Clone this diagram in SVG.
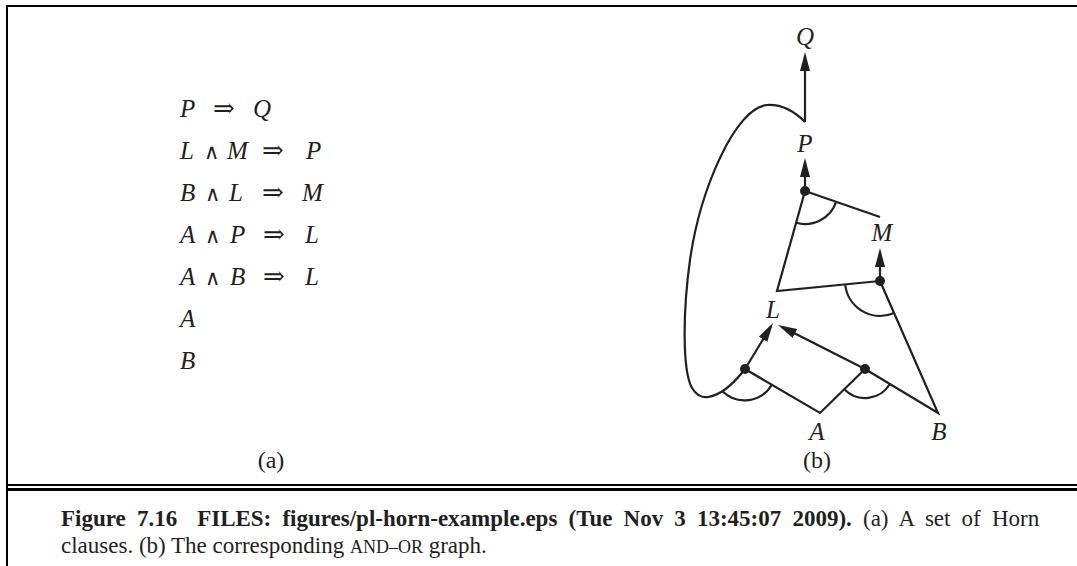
<svg xmlns="http://www.w3.org/2000/svg" width="1077" height="566" viewBox="0 0 1077 566">
<style>
.ln{stroke:#231f20;stroke-width:2.2;fill:none;stroke-linejoin:miter}
.lbl{font-family:"Liberation Serif",serif;font-style:italic;font-size:25px;fill:#231f20;text-anchor:middle}
.sub{font-family:"Liberation Serif",serif;font-size:24px;fill:#231f20;text-anchor:middle}
.mi{font-family:"Liberation Serif",serif;font-style:italic;font-size:25px;fill:#231f20}
.op{font-family:"DejaVu Serif",serif;font-size:26px;fill:#231f20}
.an{font-family:"DejaVu Sans",sans-serif;font-size:21px;fill:#231f20}
.cap{font-family:"Liberation Serif",serif;font-size:23px;fill:#231f20}
.dot{fill:#231f20}
</style>
<defs>
<marker id="ah" viewBox="0 0 19 10" markerUnits="userSpaceOnUse" markerWidth="19" markerHeight="10" refX="15" refY="5" orient="auto">
<path d="M0,0 L19,5 L0,10 z" fill="#231f20"/>
</marker>
</defs>
<g id="frame" fill="#000">
<rect x="6" y="5" width="1071" height="2"/>
<rect x="6" y="5" width="2" height="561"/>
<rect x="6" y="484" width="1071" height="2"/>
<rect x="6" y="488" width="1071" height="3"/>
</g>
<g id="clauses">
<text y="117"><tspan class="mi" x="180">P</tspan><tspan class="op" x="213">⇒</tspan><tspan class="mi" x="253">Q</tspan></text>
<text y="159"><tspan class="mi" x="180">L</tspan><tspan class="an" x="204">∧</tspan><tspan class="mi" x="227">M</tspan><tspan class="op" x="262">⇒</tspan><tspan class="mi" x="306">P</tspan></text>
<text y="201"><tspan class="mi" x="180">B</tspan><tspan class="an" x="205">∧</tspan><tspan class="mi" x="229">L</tspan><tspan class="op" x="262">⇒</tspan><tspan class="mi" x="302">M</tspan></text>
<text y="243"><tspan class="mi" x="180">A</tspan><tspan class="an" x="205">∧</tspan><tspan class="mi" x="230">P</tspan><tspan class="op" x="263">⇒</tspan><tspan class="mi" x="305">L</tspan></text>
<text y="285"><tspan class="mi" x="180">A</tspan><tspan class="an" x="205">∧</tspan><tspan class="mi" x="230">B</tspan><tspan class="op" x="263">⇒</tspan><tspan class="mi" x="305">L</tspan></text>
<text y="327"><tspan class="mi" x="180">A</tspan></text>
<text y="369"><tspan class="mi" x="180">B</tspan></text>
<text class="sub" x="271" y="468">(a)</text>
</g>
<g id="connectors">
<path class="ln" d="M805,122 C795,112 782,104 767,105 C735,108 700,190 690,260 C683,310 682,370 692,388 C697,396 702,398 708,397 C722,395 735,382 745,369"/>
<line class="ln" x1="805" y1="122" x2="805" y2="56" marker-end="url(#ah)"/>
<line class="ln" x1="805" y1="191" x2="805" y2="162" marker-end="url(#ah)"/>
<line class="ln" x1="880" y1="281" x2="880" y2="252" marker-end="url(#ah)"/>
<line class="ln" x1="745" y1="369" x2="770.9" y2="326.4" marker-end="url(#ah)"/>
<line class="ln" x1="865" y1="369" x2="781.6" y2="326.8" marker-end="url(#ah)"/>
<polyline class="ln" points="805,191 777,291 880,281"/>
<line class="ln" x1="805" y1="191" x2="880" y2="217"/>
<polyline class="ln" points="880,281 938,413 865,369"/>
<polyline class="ln" points="745,369 820,413 865,369"/>
<path class="ln" d="M796.1,222.8 A33,33 0 0 0 836.2,201.8"/>
<path class="ln" d="M845.2,284.4 A35,35 0 0 0 894.1,313"/>
<path class="ln" d="M722.5,391.3 A31.5,31.5 0 0 0 771.8,384.7"/>
<path class="ln" d="M844.3,389.3 A29,29 0 0 0 889.9,384"/>
</g>
<g id="node-Q"><text class="lbl" x="805" y="45">Q</text></g>
<g id="node-P"><text class="lbl" x="805" y="152">P</text></g>
<g id="node-M"><text class="lbl" x="882" y="241">M</text></g>
<g id="node-L"><text class="lbl" x="773" y="318">L</text></g>
<g id="node-A"><text class="lbl" x="817" y="440">A</text></g>
<g id="node-B"><text class="lbl" x="939" y="440">B</text></g>
<g id="and-P"><circle class="dot" cx="805" cy="191" r="5"/></g>
<g id="and-M"><circle class="dot" cx="880" cy="281" r="5"/></g>
<g id="and-L1"><circle class="dot" cx="745" cy="369" r="5"/></g>
<g id="and-L2"><circle class="dot" cx="865" cy="369" r="5"/></g>
<text class="sub" x="817" y="468">(b)</text>
<g id="caption">
<text class="cap" x="61" y="526" word-spacing="5.4"><tspan font-weight="bold">Figure 7.16</tspan><tspan font-weight="bold" dx="20">FILES: figures/pl-horn-example.eps (Tue Nov 3 13:45:07 2009).</tspan> (a) A set of Horn</text>
<text class="cap" x="61" y="553">clauses. (b) The corresponding <tspan font-size="18px">AND–OR</tspan> graph.</text>
</g>
</svg>
